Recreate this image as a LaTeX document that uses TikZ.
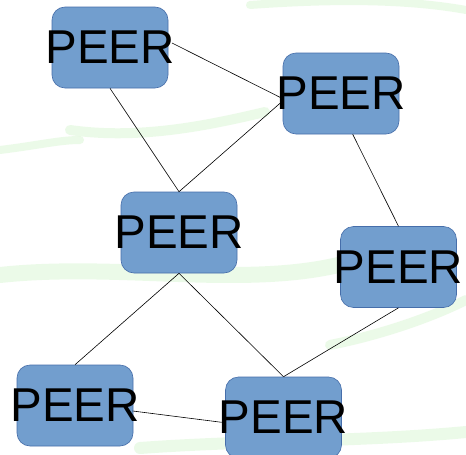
\documentclass[tikz,border=0pt]{standalone}
\usepackage{fontspec}
\setmainfont{Liberation Sans}
\usetikzlibrary{calc}
\definecolor{peerfill}{RGB}{114,158,206}
\definecolor{peerdraw}{RGB}{70,110,170}
\definecolor{swoosh}{RGB}{200,242,190}
\tikzset{
  peer/.style={draw=peerdraw, line width=0.6pt, fill=peerfill, rounded corners=13pt,
    minimum width=116pt, minimum height=81pt, inner sep=0pt, text=black,
    font=\fontsize{47.5}{52}\selectfont},
  link/.style={draw=black, line width=0.6pt},
  bg/.style={swoosh, line cap=round, opacity=0.35}
}
\newcommand{\peertext}{\makebox[0pt]{PEER}}
\begin{document}
\begin{tikzpicture}[x=1pt,y=-1pt]
\useasboundingbox (0,0) rectangle (466,455);
\fill[white] (0,0) rectangle (466,455);
% faint background swooshes
\draw[bg, line width=16pt] (0,275) .. controls (120,262) and (250,290) .. (350,262);
\draw[bg, line width=10pt] (70,130) .. controls (140,140) and (210,125) .. (265,112);
\draw[bg, line width=8pt] (250,5) .. controls (320,0) and (400,-2) .. (466,10);
\draw[bg, line width=10pt] (330,345) .. controls (380,335) and (430,318) .. (466,300);
\draw[bg, line width=12pt] (140,448) .. controls (250,440) and (360,442) .. (466,432);
\draw[bg, line width=8pt] (0,150) .. controls (40,145) and (60,140) .. (80,140);
% nodes
\node[peer] (n1) at (110,47.5) {\peertext};
\node[peer] (n2) at (341,93.5) {\peertext};
\node[peer] (n3) at (179,232.5) {\peertext};
\node[peer] (n4) at (398.5,267) {\peertext};
\node[peer] (n5) at (75,405.5) {\peertext};
\node[peer] (n6) at (283.5,417.5) {\peertext};
% connectors
\draw[link] ($(n1.center)+(62,-4.5)$) -- ($(n2.center)+(-61,3.8)$);
\draw[link] (n1.south) -- (n3.north);
\draw[link] (n3.north) -- ($(n2.center)+(-61,9.8)$);
\draw[link] ($(n2.south)+(11.7,0)$) -- (n4.north);
\draw[link] (n3.south) -- (n5.north);
\draw[link] (n3.south) -- (n6.north);
\draw[link] (n4.south) -- (n6.north);
\draw[link] ($(n5.center)+(57.7,5.5)$) -- ($(n6.center)+(-61.8,4.8)$);
\end{tikzpicture}
\end{document}
